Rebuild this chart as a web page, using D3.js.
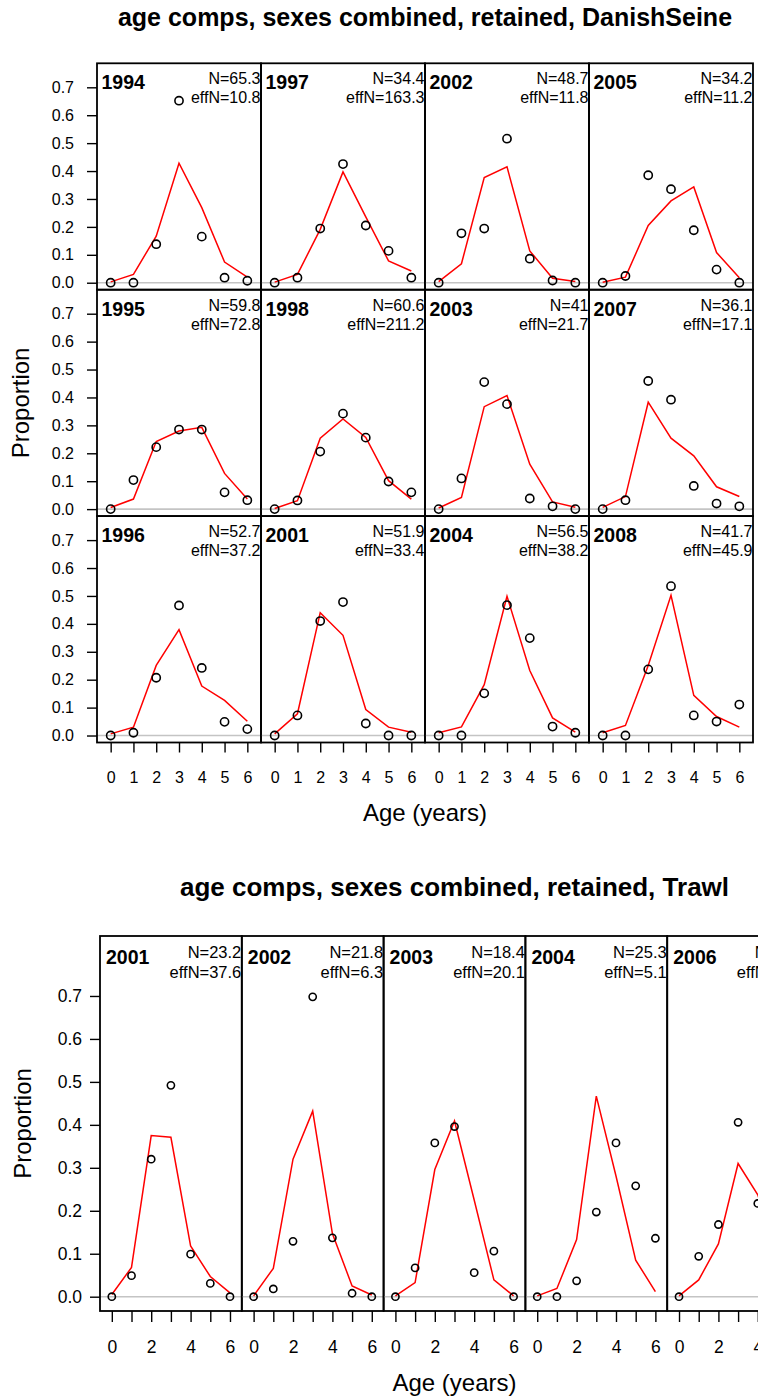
<!DOCTYPE html>
<html>
<head>
<meta charset="utf-8">
<script src="https://cdn.jsdelivr.net/npm/d3@7"></script>
<style>
  html, body { margin: 0; padding: 0; background: #fff; overflow: hidden; }
  svg { display: block; font-family: "Liberation Sans", Arial, Helvetica, sans-serif; }
</style>
</head>
<body>
<svg id="chart" width="758" height="1400"></svg>
<script>
// Ages shown on every panel
const ages = [0, 1, 2, 3, 4, 5, 6];

// ---- DanishSeine fleet (12 years, filled column by column) ----
const dsYears = [1994, 1995, 1996, 1997, 1998, 2001, 2002, 2003, 2004, 2005, 2007, 2008];
const dsN     = [65.3, 59.8, 52.7, 34.4, 60.6, 51.9, 48.7, 41, 56.5, 34.2, 36.1, 41.7];
const dsEffN  = [10.8, 72.8, 37.2, 163.3, 211.2, 33.4, 11.8, 21.7, 38.2, 11.2, 17.1, 45.9];
const dsObs = [
  [0.000, 0.000, 0.138, 0.652, 0.165, 0.018, 0.007], // 1994
  [0.000, 0.104, 0.222, 0.285, 0.285, 0.060, 0.032], // 1995
  [0.000, 0.010, 0.207, 0.466, 0.242, 0.049, 0.023], // 1996
  [0.000, 0.018, 0.194, 0.425, 0.205, 0.114, 0.018], // 1997
  [0.000, 0.031, 0.206, 0.342, 0.256, 0.099, 0.060], // 1998
  [0.000, 0.072, 0.410, 0.478, 0.043, 0.000, 0.000], // 2001
  [0.000, 0.177, 0.194, 0.516, 0.086, 0.008, 0.000], // 2002
  [0.000, 0.110, 0.455, 0.376, 0.038, 0.010, 0.000], // 2003
  [0.000, 0.000, 0.151, 0.467, 0.349, 0.032, 0.010], // 2004
  [0.000, 0.024, 0.385, 0.335, 0.188, 0.047, 0.000], // 2005
  [0.000, 0.032, 0.459, 0.392, 0.083, 0.020, 0.010], // 2007
  [0.000, 0.000, 0.237, 0.535, 0.072, 0.050, 0.111]  // 2008
];
const dsExp = [
  [0.003, 0.030, 0.167, 0.428, 0.269, 0.074, 0.020], // 1994
  [0.006, 0.036, 0.242, 0.280, 0.293, 0.128, 0.036], // 1995
  [0.006, 0.030, 0.251, 0.379, 0.177, 0.126, 0.051], // 1996
  [0.002, 0.030, 0.191, 0.397, 0.236, 0.078, 0.042], // 1997
  [0.002, 0.030, 0.254, 0.323, 0.257, 0.102, 0.036], // 1998
  [0.006, 0.078, 0.440, 0.359, 0.093, 0.030, 0.012], // 2001
  [0.004, 0.068, 0.377, 0.415, 0.114, 0.016, 0.004], // 2002
  [0.004, 0.042, 0.367, 0.407, 0.161, 0.026, 0.007], // 2003
  [0.010, 0.031, 0.182, 0.499, 0.233, 0.063, 0.012], // 2004
  [0.002, 0.020, 0.205, 0.293, 0.343, 0.108, 0.018], // 2005
  [0.006, 0.045, 0.383, 0.254, 0.191, 0.080, 0.045], // 2007
  [0.010, 0.036, 0.251, 0.502, 0.144, 0.068, 0.030]  // 2008
];

// ---- Trawl fleet (single row of panels) ----
const twYears = [2001, 2002, 2003, 2004, 2006];
const twN     = [23.2, 21.8, 18.4, 25.3, 19.8];
const twEffN  = [37.6, 6.3, 20.1, 5.1, 12.4];
const twObs = [
  [0.000, 0.049, 0.320, 0.492, 0.099, 0.031, 0.000], // 2001
  [0.000, 0.018, 0.129, 0.698, 0.137, 0.008, 0.000], // 2002
  [0.000, 0.067, 0.358, 0.396, 0.056, 0.106, 0.000], // 2003
  [0.000, 0.000, 0.037, 0.197, 0.358, 0.258, 0.136], // 2004
  [0.000, 0.094, 0.168, 0.406, 0.217, 0.060, 0.020]  // 2006
];
const twExp = [
  [0.005, 0.068, 0.375, 0.371, 0.118, 0.047, 0.009], // 2001
  [0.002, 0.066, 0.320, 0.432, 0.147, 0.025, 0.004], // 2002
  [0.002, 0.033, 0.296, 0.409, 0.225, 0.039, 0.002], // 2003
  [0.002, 0.019, 0.133, 0.467, 0.281, 0.085, 0.012], // 2004
  [0.002, 0.039, 0.123, 0.310, 0.237, 0.100, 0.030]  // 2006
];

const yTicks = [0, 0.1, 0.2, 0.3, 0.4, 0.5, 0.6, 0.7];
const fmtY = d3.format(".1f");

const svg = d3.select("#chart");

// Draws one lattice of composition panels
function drawLattice(cfg) {
  const g = svg.append("g");
  const colW = (cfg.right - cfg.left) / cfg.ncol;
  const rowH = (cfg.bottom - cfg.top) / cfg.nrow;

  // Title
  g.append("text")
    .attr("x", cfg.left + cfg.ncol * colW / 2)
    .attr("y", cfg.titleY)
    .attr("text-anchor", "middle")
    .attr("font-weight", "bold")
    .attr("font-size", cfg.titleSize)
    .text(cfg.title);

  cfg.years.forEach((yr, i) => {
    const col = Math.floor(i / cfg.nrow);
    const row = i % cfg.nrow;
    const x0 = cfg.left + col * colW;
    const y0 = cfg.top + row * rowH;

    const x = d3.scaleLinear().domain([-0.6, 6.6]).range([x0, x0 + colW]);
    const y = d3.scaleLinear().domain(cfg.yDomain).range([y0 + rowH, y0]);

    const p = g.append("g");

    // zero reference line
    p.append("line")
      .attr("x1", x0).attr("x2", x0 + colW)
      .attr("y1", y(0)).attr("y2", y(0))
      .attr("stroke", "#c4c4c4").attr("stroke-width", 1.6);

    // expected proportions
    const line = d3.line().x((d, k) => x(ages[k])).y(d => y(d));
    p.append("path")
      .datum(cfg.exp[i])
      .attr("d", line)
      .attr("fill", "none")
      .attr("stroke", "#ff0000")
      .attr("stroke-width", 1.5);

    // observed proportions
    p.selectAll("circle")
      .data(cfg.obs[i])
      .join("circle")
      .attr("cx", (d, k) => x(ages[k]))
      .attr("cy", d => y(d))
      .attr("r", cfg.r)
      .attr("fill", "none")
      .attr("stroke", "#000")
      .attr("stroke-width", 1.6);

    // panel frame
    p.append("rect")
      .attr("x", x0).attr("y", y0)
      .attr("width", colW).attr("height", rowH)
      .attr("fill", "none").attr("stroke", "#000").attr("stroke-width", 1.8);

    // year label
    p.append("text")
      .attr("x", x0 + cfg.yearDx).attr("y", y0 + cfg.yearDy)
      .attr("font-weight", "bold").attr("font-size", cfg.yearSize)
      .text(yr);

    // sample sizes
    p.append("text")
      .attr("x", x0 + colW - 0.5).attr("y", y0 + cfg.nDy)
      .attr("text-anchor", "end").attr("font-size", cfg.nSize)
      .text("N=" + cfg.N[i]);
    p.append("text")
      .attr("x", x0 + colW - 0.5).attr("y", y0 + cfg.effDy)
      .attr("text-anchor", "end").attr("font-size", cfg.nSize)
      .text("effN=" + cfg.effN[i]);

    // left axis on first column
    if (col === 0) {
      const ya = g.append("g")
        .attr("transform", `translate(${x0},0)`)
        .call(d3.axisLeft(y).tickValues(yTicks).tickFormat(fmtY)
          .tickSize(cfg.tickLen).tickPadding(cfg.yPad));
      ya.select(".domain").remove();
      ya.selectAll("line").attr("stroke", "#000").attr("stroke-width", 1.4);
      ya.selectAll("text").attr("font-size", cfg.tickSize).attr("fill", "#000")
        .attr("font-family", "Liberation Sans, Arial, sans-serif");
    }
    // bottom axis on last row
    if (row === cfg.nrow - 1) {
      const xa = g.append("g")
        .attr("transform", `translate(0,${y0 + rowH})`)
        .call(d3.axisBottom(x).tickValues(ages)
          .tickFormat(d => cfg.xLabels.includes(d) ? d : "")
          .tickSize(cfg.xTickLen).tickPadding(cfg.xPad));
      xa.select(".domain").remove();
      xa.selectAll("line").attr("stroke", "#000").attr("stroke-width", 1.4);
      xa.selectAll("text").attr("font-size", cfg.tickSize).attr("fill", "#000")
        .attr("font-family", "Liberation Sans, Arial, sans-serif");
    }
  });

  // axis titles
  g.append("text")
    .attr("x", cfg.left + cfg.ncol * colW / 2)
    .attr("y", cfg.xTitleY)
    .attr("text-anchor", "middle")
    .attr("font-size", cfg.labSize)
    .text("Age (years)");
  g.append("text")
    .attr("transform", `translate(${cfg.yTitleX},${(cfg.top + cfg.bottom) / 2}) rotate(-90)`)
    .attr("text-anchor", "middle")
    .attr("font-size", cfg.labSize)
    .text("Proportion");
}

drawLattice({
  title: "age comps, sexes combined, retained, DanishSeine",
  titleY: 26, titleSize: 25,
  years: dsYears, N: dsN, effN: dsEffN, obs: dsObs, exp: dsExp,
  left: 97, right: 753, top: 63.3, bottom: 742.5, ncol: 4, nrow: 3,
  yDomain: [-0.025, 0.786],
  r: 4.1,
  yearDx: 4.5, yearDy: 26, yearSize: 19.5,
  nDy: 21, effDy: 40, nSize: 16,
  tickLen: 10, yPad: 13, xTickLen: 10, xPad: 19, tickSize: 16,
  xLabels: ages,
  xTitleY: 821, yTitleX: 29, labSize: 24
});

drawLattice({
  title: "age comps, sexes combined, retained, Trawl",
  titleY: 896, titleSize: 26,
  years: twYears, N: twN, effN: twEffN, obs: twObs, exp: twExp,
  left: 100, right: 100 + 5 * 141.8, top: 936, bottom: 1311, ncol: 5, nrow: 1,
  yDomain: [-0.0333, 0.8396],
  r: 3.6,
  yearDx: 6, yearDy: 28, yearSize: 19.5,
  nDy: 22, effDy: 42, nSize: 16.5,
  tickLen: 10, yPad: 8, xTickLen: 11, xPad: 19, tickSize: 17.5,
  xLabels: [0, 2, 4, 6],
  xTitleY: 1391, yTitleX: 30.5, labSize: 24
});
</script>
</body>
</html>
